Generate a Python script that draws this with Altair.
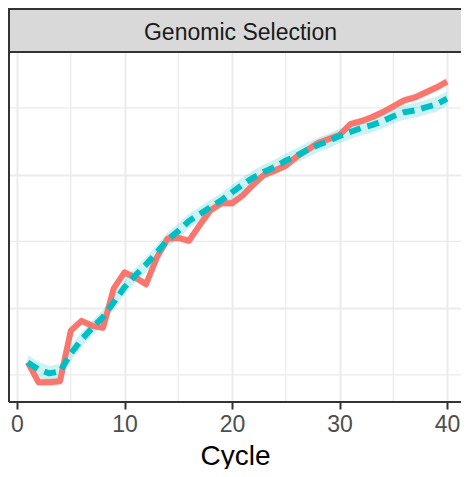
import altair as alt
import pandas as pd

# ---- data ----
cycles = list(range(1, 41))
red_vals = [0.593, 0.444, 0.444, 0.452, 0.830, 0.904, 0.867, 0.852, 1.148, 1.267,
            1.230, 1.178, 1.378, 1.519, 1.526, 1.504, 1.622, 1.733, 1.785, 1.785,
            1.844, 1.926, 2.000, 2.030, 2.067, 2.133, 2.185, 2.237, 2.267, 2.296,
            2.378, 2.400, 2.430, 2.467, 2.511, 2.556, 2.578, 2.615, 2.652, 2.696]
cyan_vals = [0.593, 0.541, 0.511, 0.526, 0.659, 0.763, 0.852, 0.933, 1.044, 1.156,
             1.244, 1.326, 1.415, 1.511, 1.578, 1.652, 1.704, 1.756, 1.807, 1.867,
             1.926, 1.978, 2.022, 2.059, 2.104, 2.141, 2.185, 2.222, 2.252, 2.289,
             2.319, 2.348, 2.370, 2.400, 2.437, 2.467, 2.481, 2.504, 2.526, 2.570]
red_band = 0.03
cyan_band = 0.055
x_ticks = [0, 10, 20, 30, 40]
x_minor = [5, 15, 25, 35]
y_major = [1, 2]
y_minor = [0.5, 1.5, 2.5]
strip_label = "Genomic Selection"
x_title = "Cycle"

RED = "#F8766D"
CYAN = "#00BFC4"
FONT = "Liberation Sans"
BORDER = "#333333"

W, H = 452, 350
xdom = [-0.744, 41.30]
ydom = [0.2963, 2.9185]

red_df = pd.DataFrame({"Cycle": cycles, "value": red_vals})
red_df["lo"] = red_df["value"] - red_band
red_df["hi"] = red_df["value"] + red_band
cyan_df = pd.DataFrame({"Cycle": cycles, "value": cyan_vals})
cyan_df["lo"] = cyan_df["value"] - cyan_band
cyan_df["hi"] = cyan_df["value"] + cyan_band

xs = alt.Scale(domain=xdom, nice=False, zero=False)
ys = alt.Scale(domain=ydom, nice=False, zero=False)

x_axis = alt.Axis(values=x_ticks, grid=True, domain=False, ticks=True,
                  tickSize=7, tickWidth=2, tickColor=BORDER,
                  labelFontSize=23, labelColor="#4D4D4D", labelFont=FONT,
                  labelPadding=4, titleFontSize=28, titleColor="#000000",
                  titleFont=FONT, titleFontWeight="normal", titlePadding=6)
y_axis = alt.Axis(values=y_major, grid=True, domain=False, ticks=False,
                  labels=False, title=None)

axes = alt.Chart(red_df).mark_point(opacity=0).encode(
    x=alt.X("Cycle:Q", scale=xs, axis=x_axis, title=x_title),
    y=alt.Y("value:Q", scale=ys, axis=y_axis, title=None),
)

vminor = alt.Chart(pd.DataFrame({"xm": x_minor})).mark_rule(
    color="#EBEBEB", strokeWidth=1.2).encode(
    x=alt.X("xm:Q", scale=xs, title=x_title))
hminor = alt.Chart(pd.DataFrame({"ym": y_minor})).mark_rule(
    color="#EBEBEB", strokeWidth=1.2).encode(
    y=alt.Y("ym:Q", scale=ys, title=None))

def ribbon(df, color):
    return alt.Chart(df).mark_area(color=color, opacity=0.2).encode(
        x=alt.X("Cycle:Q", scale=xs, title=x_title),
        y=alt.Y("lo:Q", scale=ys, title=None),
        y2="hi:Q",
    )

red_line = alt.Chart(red_df).mark_line(
    color=RED, strokeWidth=6, strokeJoin="round", strokeCap="butt").encode(
    x=alt.X("Cycle:Q", scale=xs, title=x_title),
    y=alt.Y("value:Q", scale=ys, title=None),
)
cyan_line = alt.Chart(cyan_df).mark_line(
    color=CYAN, strokeWidth=6, strokeDash=[12, 7], strokeCap="butt",
    strokeJoin="round").encode(
    x=alt.X("Cycle:Q", scale=xs, title=x_title),
    y=alt.Y("value:Q", scale=ys, title=None),
)

one = pd.DataFrame({"s": [strip_label]})
left_border = alt.Chart(one).mark_rule(color=BORDER, strokeWidth=2).encode(
    x=alt.value(0), y=alt.value(0), y2=alt.value(H))
bottom_border = alt.Chart(one).mark_rule(color=BORDER, strokeWidth=2).encode(
    x=alt.value(0), x2=alt.value(W + 5), y=alt.value(H))

strip_rect = alt.Chart(one).mark_rect(
    fill="#D9D9D9", stroke=BORDER, strokeWidth=2).encode(
    x=alt.value(0), x2=alt.value(W + 10), y=alt.value(-43), y2=alt.value(0))
strip_text = alt.Chart(one).mark_text(
    font=FONT, fontSize=23, color="#1A1A1A", align="center",
    baseline="alphabetic").encode(
    text="s:N", x=alt.value(231.5), y=alt.value(-12.5))

chart = alt.layer(
    axes, vminor, hminor,
    ribbon(red_df, RED), ribbon(cyan_df, CYAN),
    red_line, cyan_line,
    left_border, bottom_border,
    strip_rect, strip_text,
).properties(
    width=W, height=H,
    autosize=alt.AutoSizeParams(type="none"),
    padding={"left": 1, "top": 44, "right": 0, "bottom": 67},
    background="white",
).configure_view(
    stroke=None
).configure_axis(
    gridColor="#EBEBEB", gridWidth=2
)

chart.save("out.html", embed_options={"renderer": "svg", "actions": False})
